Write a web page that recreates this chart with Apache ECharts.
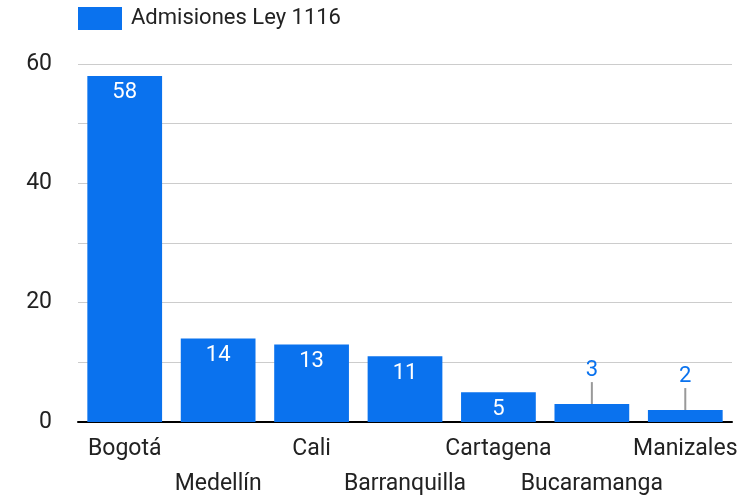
<!DOCTYPE html>
<html>
<head>
<meta charset="utf-8">
<script src="https://cdn.jsdelivr.net/npm/echarts@6/dist/echarts.min.js"></script>
<style>
  html, body { margin: 0; padding: 0; background: #fff; }
  #chart { width: 747px; height: 497px; }
</style>
</head>
<body>
<div id="chart"></div>
<script>
const cities = ["Bogotá", "Medellín", "Cali", "Barranquilla", "Cartagena", "Bucaramanga", "Manizales"];
const admisiones = [58, 14, 13, 11, 5, 3, 2];
const seriesName = "Admisiones Ley 1116";

const blue = "#0a72ee";
const font = "Roboto";
const smallLimit = 5; // below this the label sits above the bar with a leader line

const chart = echarts.init(document.getElementById("chart"));
chart.setOption({
  animation: false,
  textStyle: { fontFamily: font },
  legend: {
    left: 73,
    top: 2,
    itemWidth: 44,
    itemHeight: 23,
    icon: "rect",
    textStyle: { fontSize: 22, color: "#222", fontFamily: font, padding: [0, 0, 0, 4] },
    data: [seriesName],
  },
  grid: { left: 78, right: 15, top: 64, bottom: 75, outerBoundsMode: "none" },
  xAxis: {
    type: "category",
    data: cities,
    axisTick: { show: false },
    axisLine: { lineStyle: { color: "#000", width: 2 } },
    axisLabel: {
      interval: 0,
      margin: 10,
      fontSize: 23,
      color: "#222",
      lineHeight: 35,
      formatter: (name, i) => (i % 2 === 1 ? "\n" + name : name),
    },
  },
  yAxis: {
    type: "value",
    min: 0,
    max: 60,
    interval: 10,
    axisLine: { show: false },
    axisTick: { show: false },
    splitLine: { lineStyle: { color: "#cccccc", width: 1 } },
    axisLabel: {
      margin: 26,
      fontSize: 23,
      color: "#222",
      formatter: (v) => (v % 20 === 0 ? String(v) : ""),
    },
  },
  series: [
    {
      name: seriesName,
      type: "bar",
      data: admisiones,
      barCategoryGap: "20%",
      itemStyle: { color: blue },
      label: {
        show: true,
        position: "insideTop",
        distance: 6,
        color: "#fff",
        fontSize: 22,
        fontFamily: font,
        formatter: (p) => (p.value >= smallLimit ? String(p.value) : ""),
      },
    },
    {
      type: "custom",
      silent: true,
      data: admisiones.map((v, i) => [i, v]),
      renderItem: (params, api) => {
        const v = api.value(1);
        if (v >= smallLimit) return null;
        const top = api.coord([api.value(0), v]);
        return {
          type: "group",
          children: [
            {
              type: "line",
              shape: { x1: top[0], y1: top[1], x2: top[0], y2: top[1] - 22 },
              style: { stroke: "#999", lineWidth: 2 },
            },
            {
              type: "text",
              style: {
                x: top[0],
                y: top[1] - 34,
                text: String(v),
                fill: blue,
                font: "22px " + font,
                align: "center",
                verticalAlign: "middle",
              },
            },
          ],
        };
      },
    },
  ],
});
</script>
</body>
</html>
